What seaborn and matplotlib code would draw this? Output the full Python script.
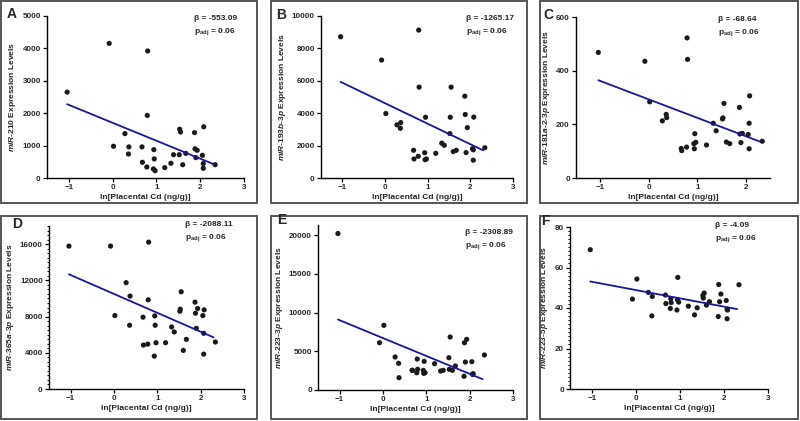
import numpy as np
import pandas as pd
import matplotlib
matplotlib.use("Agg")
import matplotlib.pyplot as plt
from matplotlib.ticker import MultipleLocator
from matplotlib.patches import Rectangle
import seaborn as sns

# ---------------- data ----------------
cd_ln = [-1.04, -0.08, 0.02, 0.28, 0.36, 0.37, 0.67, 0.68, 0.78, 0.79, 0.80,
         0.93, 0.94, 0.95, 0.97, 1.19, 1.33, 1.39, 1.52, 1.53, 1.55, 1.60,
         1.67, 1.87, 1.88, 1.90, 1.93, 2.05, 2.07, 2.07, 2.08, 2.34]

mir210 = [2650, 4155, 980, 1370, 740, 960, 960, 485, 340, 1930, 3920,
          280, 875, 590, 225, 320, 455, 720, 720, 1505, 1420, 410,
          760, 1400, 900, 630, 855, 700, 445, 300, 1580, 410]

mir193b = [8720, 7280, 3980, 3280, 3070, 3420, 1710, 1175, 1340, 9130, 5610,
           1560, 1130, 3750, 1175, 1525, 2150, 2020, 2740, 3750, 5610, 1630,
           1710, 5050, 3920, 1570, 3110, 1810, 1740, 1100, 3760, 1870]

mir181a = [468, 435, 284, 213, 237, 225, 110, 102, 115, 522, 442,
           128, 109, 165, 133, 123, 204, 176, 220, 224, 278, 134,
           128, 263, 164, 132, 166, 162, 204, 109, 306, 137]

mir365a = [15780, 15780, 8110, 11740, 7040, 10260, 7930, 4850, 4960, 9850, 16220,
           3630, 8070, 7040, 5110, 5110, 6850, 6300, 8590, 8810, 10740, 4260,
           5480, 9590, 8370, 6700, 8890, 8110, 6150, 3850, 8740, 5190]

mir223_3p = [20200, 6100, 8350, 4260, 3440, 1590, 2540, 2540, 2230, 4000, 2670,
             2540, 2150, 3700, 2230, 3400, 2450, 2540, 4170, 2670, 6840, 2540,
             3100, 1770, 6100, 3610, 6540, 3650, 2060, 2000, 2100, 4520]

mir223_5p = [68.8, 44.4, 54.3, 47.7, 36.1, 45.7, 46.4, 42.2, 39.8, 44.6, 42.7,
             39.0, 44.1, 55.1, 42.9, 40.9, 36.6, 40.1, 46.2, 44.9, 47.4, 41.4,
             43.1, 35.8, 51.6, 43.1, 46.9, 43.7, 39.4, 34.7, 39.0, 51.5]

panel_letters = ["A", "B", "C", "D", "E", "F"]
mir_names = ["miR-210", "miR-193b-3p", "miR-181a-2-3p", "miR-365a-3p", "miR-223-3p", "miR-223-5p"]
betas = [-553.09, -1265.17, -68.64, -2088.11, -2308.89, -4.09]
intercepts = [1703, 4617, 293, 10498, 6700, 48.85]
p_adj = [0.06, 0.06, 0.06, 0.06, 0.06, 0.06]
line_x = [-1.04, 2.30]
y_max = [5000, 10000, 600, 18000, 21300, 80]
y_step = [1000, 2000, 200, 4000, 5000, 20]
y_minor = [None, None, None, 500, None, 2]
x_max = [3, 3, 2.5, 3, 3, 3]
x_label = "ln[Placental Cd (ng/g)]"

series = [mir210, mir193b, mir181a, mir365a, mir223_3p, mir223_5p]

# ---------------- style ----------------
sns.set_style("white")
plt.rcParams['font.family'] = ['Liberation Sans', 'DejaVu Sans']
plt.rcParams['font.weight'] = 'bold'
plt.rcParams['axes.labelweight'] = 'bold'
plt.rcParams['mathtext.fontset'] = 'custom'
plt.rcParams['mathtext.rm'] = 'Liberation Sans:bold'
plt.rcParams['mathtext.it'] = 'Liberation Sans:italic:bold'
plt.rcParams['mathtext.bf'] = 'Liberation Sans:bold'

W, H = 800, 421
fig = plt.figure(figsize=(8, 4.21), dpi=100)

# axes boxes in pixels: left, right, top, bottom
ax_px = [(47, 244, 16, 178), (321, 513, 16, 178), (576, 770, 17, 178),
         (49, 244, 226, 389), (318, 513, 225, 390), (570, 768, 227, 389)]
frame_px = [(1, 257, 1, 203), (271, 527, 1, 203), (540, 798, 1, 203),
            (1, 257, 216, 419), (271, 527, 216, 419), (540, 798, 216, 419)]
letter_px = [(7, 7), (276, 8), (543, 8), (12, 217), (277, 213), (541, 214)]
annot_px = [(194, 15), (466, 15), (718, 16), (185, 221), (465, 229), (715, 222)]

for fx in frame_px:
    l, r, t, b = fx
    fig.patches.append(Rectangle((l / W, 1 - b / H), (r - l) / W, (b - t) / H,
                                 transform=fig.transFigure, fill=False,
                                 edgecolor='#555555', lw=1.4))

def mir_label(name):
    parts = name.split("-")
    return "-".join([r"$\mathit{" + p + "}$" for p in parts]) + " Expression Levels"

for i in range(6):
    l, r, t, b = ax_px[i]
    ax = fig.add_axes([l / W, 1 - b / H, (r - l) / W, (b - t) / H])
    df = pd.DataFrame({"x": cd_ln, "y": series[i]})
    sns.scatterplot(data=df, x="x", y="y", ax=ax, color="#1a1a1a", s=14,
                    edgecolor="none", zorder=3)
    lx = np.array(line_x)
    ldf = pd.DataFrame({"x": lx, "y": intercepts[i] + betas[i] * lx})
    sns.lineplot(data=ldf, x="x", y="y", ax=ax, color="#14189a", lw=1.3, zorder=4)
    ax.set_xlim(-1.5, x_max[i])
    ax.set_ylim(0, y_max[i])
    ax.xaxis.set_major_locator(MultipleLocator(1))
    ax.yaxis.set_major_locator(MultipleLocator(y_step[i]))
    if y_minor[i]:
        ax.yaxis.set_minor_locator(MultipleLocator(y_minor[i]))
        ax.tick_params(axis='y', which='minor', length=1.8, width=0.7, left=True, color='black')
    for s in ["top", "right"]:
        ax.spines[s].set_visible(False)
    for s in ["left", "bottom"]:
        ax.spines[s].set_color("black")
        ax.spines[s].set_linewidth(1.0)
    ax.tick_params(axis='both', which='major', length=3, width=0.9, color='black',
                   labelsize=5.8, pad=1.5, bottom=True, left=True)
    for lab in ax.get_xticklabels() + ax.get_yticklabels():
        lab.set_fontweight('bold')
    ax.set_xlabel(x_label, fontsize=6, fontweight='bold', labelpad=2)
    ax.set_ylabel(mir_label(mir_names[i]), fontsize=6, fontweight='bold', labelpad=3)
    ax.set_facecolor('none')

    lx_, ly_ = letter_px[i]
    fig.text(lx_ / W, 1 - ly_ / H, panel_letters[i], fontsize=10, fontweight='bold',
             va='top', ha='left')
    axp, ayp = annot_px[i]
    fig.text(axp / W, 1 - ayp / H, "\u03b2 = " + f"{betas[i]:.2f}", fontsize=6,
             fontweight='bold', va='top', ha='left')
    fig.text(axp / W, 1 - (ayp + 11) / H, r"p$_{\mathrm{adj}}$" + f" = {p_adj[i]:.2f}",
             fontsize=6, fontweight='bold', va='top', ha='left')

fig.savefig("out.png", dpi=100)
